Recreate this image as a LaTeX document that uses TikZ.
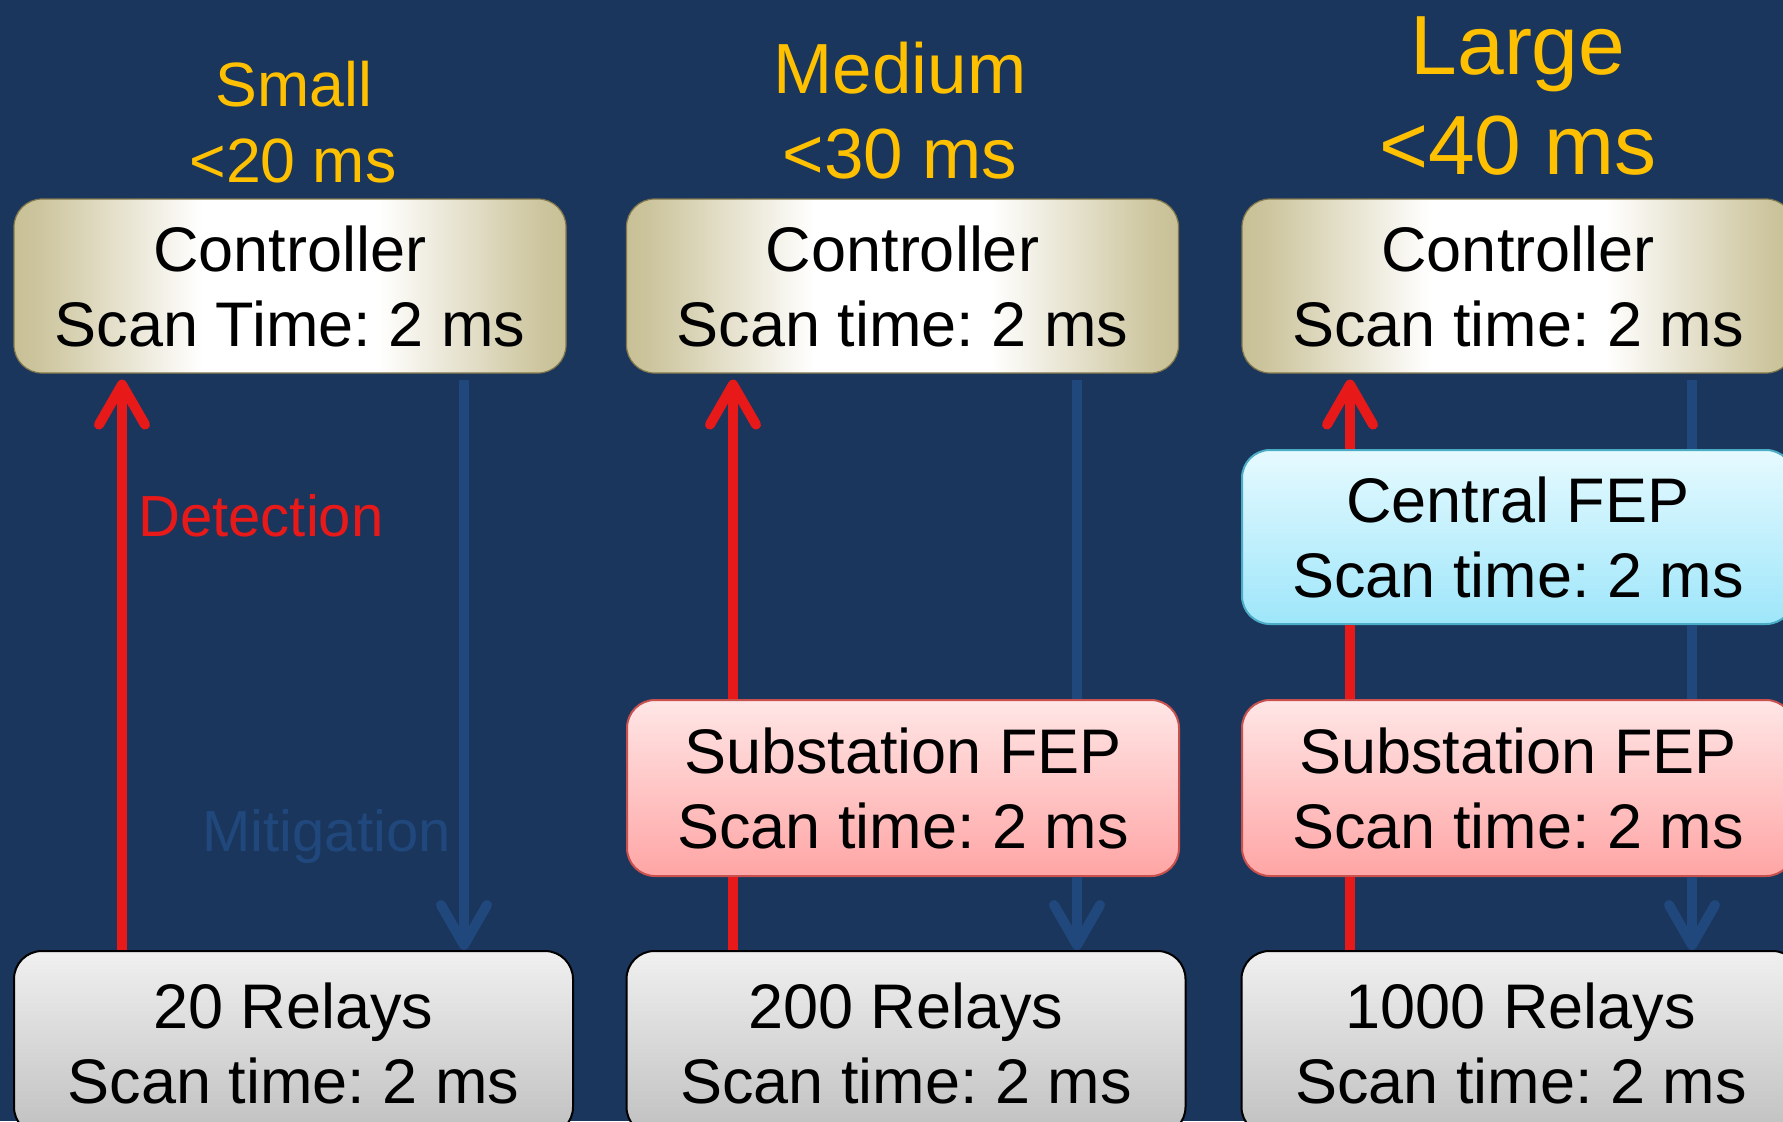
\documentclass[tikz,border=0pt]{standalone}
\usepackage{fontspec}
\setmainfont{Liberation Sans}
\usetikzlibrary{arrows.meta}
\frenchspacing
\definecolor{bg}{RGB}{26,54,93}
\definecolor{khaki}{RGB}{168,156,100}
\definecolor{khakimid}{RGB}{204,196,156}
\definecolor{ctrlborder}{RGB}{130,120,75}
\definecolor{relaytop}{RGB}{240,240,240}
\definecolor{relaybot}{RGB}{192,192,192}
\definecolor{pinktop}{RGB}{255,230,230}
\definecolor{pinkbot}{RGB}{255,165,165}
\definecolor{pinkborder}{RGB}{200,80,77}
\definecolor{cyantop}{RGB}{230,250,255}
\definecolor{cyanbot}{RGB}{158,230,250}
\definecolor{cyanborder}{RGB}{75,172,198}
\definecolor{detred}{RGB}{232,25,25}
\definecolor{mitblue}{RGB}{33,72,124}
\definecolor{gold}{RGB}{255,192,0}
\pgfdeclarehorizontalshading{ctrlshade}{100bp}{color(0bp)=(khaki); color(8bp)=(khaki); color(27bp)=(khakimid); color(42bp)=(white); color(58bp)=(white); color(73bp)=(khakimid); color(92bp)=(khaki); color(100bp)=(khaki)}
\newcommand{\boxfont}{\fontsize{31.5pt}{37.5pt}\selectfont}
\tikzset{
  box/.style={rounded corners=14pt, minimum width=276pt, minimum height=87pt, inner sep=0pt, align=center, font=\boxfont, text=black, line width=1pt},
  ctrl/.style={box, shading=ctrlshade, draw=ctrlborder, line width=0.6pt},
  relay/.style={box, minimum width=279.5pt, minimum height=92pt, top color=relaytop, bottom color=relaybot, draw=black},
  subfep/.style={box, minimum height=88pt, top color=pinktop, bottom color=pinkbot, draw=pinkborder},
  cenfep/.style={box, top color=cyantop, bottom color=cyanbot, draw=cyanborder},
  redline/.style={draw=detred, line width=5pt},
  redarrow/.style={redline, -{Straight Barb[length=20pt,width=23pt,round]}, shorten >=3pt},
  blueline/.style={draw=mitblue, line width=5pt},
  bluearrow/.style={draw=mitblue, line width=5pt, -{Straight Barb[length=20pt,width=23pt,round]}},
  title/.style={text=gold, anchor=base, inner sep=0pt},
  lbl/.style={anchor=base, inner sep=0pt, font=\fontsize{29pt}{35pt}\selectfont}
}
\begin{document}
\begin{tikzpicture}[x=0.5pt,y=-0.5pt]
\useasboundingbox (0,0) rectangle (1783,1121);
\clip (0,0) rectangle (1783,1121);
\fill[bg] (0,0) rectangle (1783,1121);

% titles
\node[title, font=\fontsize{31.3pt}{38pt}\selectfont] (t1a) at (294,106) {Small};
\node[title, font=\fontsize{31.3pt}{38pt}\selectfont] (t1b) at (293,182) {<20 ms};
\node[title, font=\fontsize{35.5pt}{43pt}\selectfont] (t2a) at (900,93) {Medium};
\node[title, font=\fontsize{35.5pt}{43pt}\selectfont] (t2b) at (900,178.5) {<30 ms};
\node[title, font=\fontsize{42pt}{50pt}\selectfont] (t3a) at (1518,74) {Large};
\node[title, font=\fontsize{42pt}{50pt}\selectfont] (t3b) at (1518,174) {<40 ms};

% x positions of the connectors
\coordinate (xr1) at (122,0);
\coordinate (xb1) at (464,0);
\coordinate (xr2) at (733,0);
\coordinate (xb2) at (1077,0);
\coordinate (xr3) at (1350,0);
\coordinate (xb3) at (1692,0);

% boxes
\node[ctrl] (c1) at (290,286) {Controller\\Scan Time: 2 ms};
\node[ctrl] (c2) at (902.5,286) {Controller\\Scan time: 2 ms};
\node[ctrl] (c3) at (1518,286) {Controller\\Scan time: 2 ms};
\node[cenfep] (f3) at (1518,537) {Central FEP\\Scan time: 2 ms};
\node[subfep] (s2) at (903,788) {Substation FEP\\Scan time: 2 ms};
\node[subfep] (s3) at (1518,788) {Substation FEP\\Scan time: 2 ms};
\node[relay] (r1) at (293.5,1043) {20 Relays\\Scan time: 2 ms};
\node[relay] (r2) at (906,1043) {200 Relays\\Scan time: 2 ms};
\node[relay] (r3) at (1521,1043) {1000 Relays\\Scan time: 2 ms};

% column 1
\draw[redarrow] (r1.north -| xr1) -- (c1.south -| xr1);
\draw[bluearrow, shorten <=3pt] (c1.south -| xb1) -- (r1.north -| xb1);
% column 2
\draw[redline] (r2.north -| xr2) -- (s2.south -| xr2);
\draw[redarrow] (s2.north -| xr2) -- (c2.south -| xr2);
\draw[blueline, shorten <=3pt] (c2.south -| xb2) -- (s2.north -| xb2);
\draw[bluearrow] (s2.south -| xb2) -- (r2.north -| xb2);
% column 3
\draw[redline] (r3.north -| xr3) -- (s3.south -| xr3);
\draw[redline] (s3.north -| xr3) -- (f3.south -| xr3);
\draw[redarrow] (f3.north -| xr3) -- (c3.south -| xr3);
\draw[blueline, shorten <=3pt] (c3.south -| xb3) -- (f3.north -| xb3);
\draw[blueline] (f3.south -| xb3) -- (s3.north -| xb3);
\draw[bluearrow] (s3.south -| xb3) -- (r3.north -| xb3);

% labels
\node[lbl, text=detred] (det) at (261,536) {Detection};
\node[lbl, text=mitblue] (mit) at (326.5,851) {Mitigation};
\end{tikzpicture}
\end{document}
